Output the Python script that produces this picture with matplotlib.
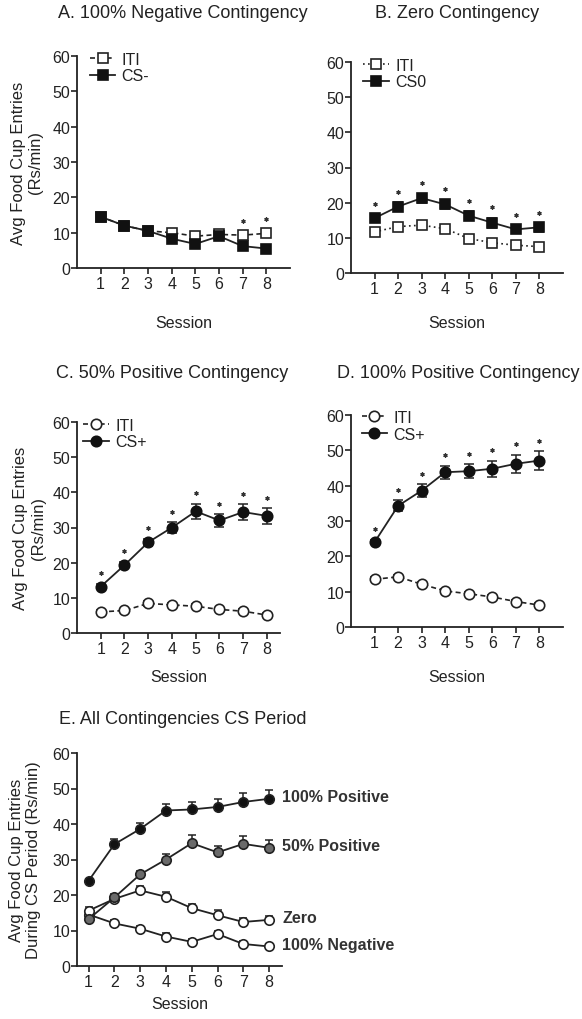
# Food cup entries across sessions for each contingency group

import numpy as np
import matplotlib
matplotlib.use("Agg")
import matplotlib.pyplot as plt

plt.rcParams['font.family'] = ['Liberation Sans', 'DejaVu Sans']

# Data
sessions = [1, 2, 3, 4, 5, 6, 7, 8]

# A. 100% negative contingency
a_iti = [14.5, 12.0, 10.5, 10.0, 9.0, 9.5, 9.3, 9.8]
a_iti_err = [0.8, 0.8, 0.7, 0.8, 0.8, 0.8, 1.0, 1.1]
a_cs = [14.5, 12.0, 10.5, 8.3, 6.8, 9.0, 6.2, 5.5]
a_cs_err = [0.6, 0.9, 0.7, 1.0, 0.8, 0.8, 0.8, 0.6]
a_sig = [7, 8]

# B. Zero contingency
b_iti = [11.7, 13.2, 13.6, 12.6, 9.8, 8.6, 7.9, 7.5]
b_iti_err = [0.7, 0.8, 0.8, 0.8, 0.7, 0.6, 0.6, 0.6]
b_cs = [15.6, 18.9, 21.3, 19.5, 16.3, 14.3, 12.4, 13.0]
b_cs_err = [1.0, 1.2, 1.3, 1.3, 1.3, 1.4, 1.0, 1.2]
b_sig = [1, 2, 3, 4, 5, 6, 7, 8]

# C. 50% positive contingency
c_iti = [6.0, 6.4, 8.4, 8.0, 7.6, 6.7, 6.2, 5.1]
c_iti_err = [0.5, 0.5, 0.6, 0.6, 0.6, 0.5, 0.5, 0.5]
c_cs = [13.2, 19.3, 25.8, 30.0, 34.6, 32.0, 34.4, 33.3]
c_cs_err = [0.8, 0.9, 1.0, 1.5, 2.2, 1.8, 2.2, 2.2]
c_sig = [1, 2, 3, 4, 5, 6, 7, 8]

# D. 100% positive contingency
d_iti = [13.5, 14.2, 12.1, 10.2, 9.4, 8.5, 7.2, 6.2]
d_iti_err = [0.6, 0.6, 0.6, 0.5, 0.5, 0.5, 0.5, 0.5]
d_cs = [24.0, 34.3, 38.6, 43.8, 44.1, 44.8, 46.2, 47.1]
d_cs_err = [0.6, 1.6, 1.8, 1.8, 2.0, 2.3, 2.6, 2.6]
d_sig = [1, 2, 3, 4, 5, 6, 7, 8]

W, H = 582, 1020
fig = plt.figure(figsize=(W / 100, H / 100), dpi=100)

FS = 11.5


def add_ax(l, t, r, b):
    return fig.add_axes([l / W, 1 - b / H, (r - l) / W, (b - t) / H])


def style(ax, xlim, top, bottom, left, xlab_y, ylab_x=None, ylab=None):
    ax.set_xlim(*xlim)
    ax.set_ylim(0, 60)
    ax.set_xticks(sessions)
    ax.set_yticks(range(0, 61, 10))
    for s in ['top', 'right']:
        ax.spines[s].set_visible(False)
    for s in ['left', 'bottom']:
        ax.spines[s].set_linewidth(1.3)
        ax.spines[s].set_color('#222222')
    ax.tick_params(direction='out', length=4, width=1.2, labelsize=FS,
                   colors='#222222')
    ax.tick_params(axis='y', pad=1)
    ax.tick_params(axis='x', pad=2)
    ax.set_xlabel('Session', fontsize=11.5, color='#222222')
    ax.xaxis.set_label_coords(0.5, (bottom - xlab_y) / (bottom - top))
    ax.xaxis.label.set_va('center')
    if ylab:
        ax.set_ylabel(ylab, fontsize=12, color='#222222')
        ax.yaxis.set_label_coords((ylab_x - left) / 213, 0.5)
        ax.yaxis.label.set_va('center')


def pair_panel(box, xlim, iti, iti_err, cs, cs_err, sig, marker, cs_name,
               iti_ls, leg_anchor, xlab_y, ylab_x=None, ylab=None):
    l, t, r, b = box
    ax = add_ax(l, t, r, b)
    ax.errorbar(sessions, iti, yerr=iti_err, fmt='none', ecolor='#222222',
                elinewidth=1.1, capsize=3.5, capthick=1.1, zorder=2)
    ax.errorbar(sessions, cs, yerr=cs_err, fmt='none', ecolor='#222222',
                elinewidth=1.1, capsize=3.5, capthick=1.1, zorder=2)
    h1, = ax.plot(sessions, iti, ls=iti_ls, lw=1.2, color='#222222',
                  marker=marker, ms=7.5, mfc='white', mec='#222222', mew=1.2,
                  zorder=3, label='ITI')
    h2, = ax.plot(sessions, cs, ls='-', lw=1.3, color='#222222',
                  marker=marker, ms=7.5, mfc='#111111', mec='#111111',
                  mew=1.2, zorder=4, label=cs_name)
    top_vals = np.maximum(np.array(iti) + np.array(iti_err),
                          np.array(cs) + np.array(cs_err))
    idx = [sessions.index(s) for s in sig]
    ax.plot(sig, top_vals[idx] + 3.0, ls='none', marker=(6, 2, 0), ms=3,
            mew=0.9, color='#333333')
    ax.legend(handles=[h1, h2], loc='upper left', bbox_to_anchor=leg_anchor,
              borderpad=0, borderaxespad=0, handlelength=1.6,
              handletextpad=0.4, labelspacing=0.1, frameon=False,
              fontsize=FS, labelcolor='#222222')
    style(ax, xlim, t, b, l, xlab_y, ylab_x, ylab)
    return ax


ylab_ab = 'Avg Food Cup Entries\n(Rs/min)'

pair_panel((77, 57, 290, 269), (0, 9), a_iti, a_iti_err, a_cs, a_cs_err,
           a_sig, 's', 'CS-', (0, (3, 2)), (0.06, 1.02), 324, 27, ylab_ab)
pair_panel((351, 63, 563, 274), (0, 9), b_iti, b_iti_err, b_cs, b_cs_err,
           b_sig, 's', 'CS0', (0, (1, 2)), (0.057, 1.02), 324)
pair_panel((77, 423, 280, 634), (0, 8.55), c_iti, c_iti_err, c_cs, c_cs_err,
           c_sig, 'o', 'CS+', (0, (3, 2)), (0.03, 1.02), 677, 27, ylab_ab)
pair_panel((351, 416, 563, 628), (0, 9), d_iti, d_iti_err, d_cs, d_cs_err,
           d_sig, 'o', 'CS+', (0, (3, 2)), (0.05, 1.024), 678)

# E. all contingencies, CS period only (upper error bars)
e_series = [
    ('100% Negative', a_cs, a_cs_err, 'white'),
    ('Zero', b_cs, b_cs_err, 'white'),
    ('50% Positive', c_cs, c_cs_err, '#6a6a6a'),
    ('100% Positive', d_cs, d_cs_err, '#111111'),
]
l, t, r, b = 77, 754, 282, 967
axe = add_ax(l, t, r, b)
for name, vals, err, fc in e_series:
    axe.errorbar(sessions, vals, yerr=[np.zeros(len(err)), err], fmt='none',
                 ecolor='#222222', elinewidth=1.1, capsize=3, capthick=1.1,
                 zorder=2)
    axe.plot(sessions, vals, ls='-', lw=1.3, color='#222222', marker='o',
             ms=6.8, mfc=fc, mec='#222222', mew=1.2, zorder=3)
    axe.annotate(name, xy=(sessions[-1], vals[-1]), xytext=(9.5, 1.5),
                 textcoords='offset points', va='center', ha='left',
                 fontsize=11.5, fontweight='bold', color='#333333',
                 annotation_clip=False)
style(axe, (0.55, 8.5), t, b, l, 1005, 23,
      'Avg Food Cup Entries\nDuring CS Period (Rs/min)')

# Panel titles
titles = [
    ('A. 100% Negative Contingency', 183, 14),
    ('B. Zero Contingency', 457, 14),
    ('C. 50% Positive Contingency', 172, 373),
    ('D. 100% Positive Contingency', 458, 373),
    ('E. All Contingencies CS Period', 183, 720),
]
for txt, x, y in titles:
    fig.text(x / W, 1 - y / H, txt, ha='center', va='center', fontsize=13,
             color='#222222')

fig.savefig('out.png', dpi=100)
